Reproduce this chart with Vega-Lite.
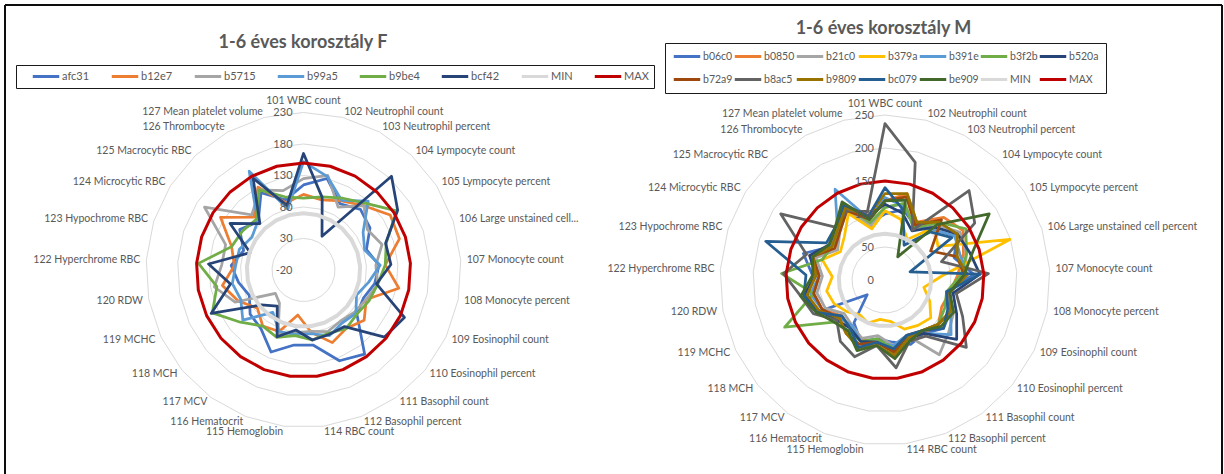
{
  "$schema": "https://vega.github.io/schema/vega-lite/v6.json",
  "padding": {"left": 4, "top": 4, "right": 1, "bottom": 0},
  "background": "white",
  "spacing": 0,
  "bounds": "flush",
  "config": {
    "view": {"stroke": null},
    "font": "Lato",
    "title": {"font": "Lato", "fontSize": 18, "fontWeight": "bold", "color": "#595959"},
    "legend": {
      "symbolType": "stroke",
      "symbolStrokeWidth": 3,
      "symbolSize": 700,
      "clipHeight": 13,
      "labelFont": "Lato",
      "labelFontSize": 11,
      "labelColor": "#595959",
      "labelOffset": 1,
      "strokeColor": "#1a1a1a",
      "fillColor": "white",
      "cornerRadius": 0
    }
  },
  "resolve": {
    "scale": {"x": "independent", "y": "independent", "color": "independent"},
    "legend": {"color": "independent"}
  },
  "datasets": {
    "catF": [
      {"k": 0, "cat": "101 WBC count"}, {"k": 1, "cat": "102 Neutrophil count"}, {"k": 2, "cat": "103 Neutrophil percent"},
      {"k": 3, "cat": "104 Lympocyte count"}, {"k": 4, "cat": "105 Lympocyte percent"}, {"k": 5, "cat": "106 Large unstained cell..."},
      {"k": 6, "cat": "107 Monocyte count"}, {"k": 7, "cat": "108 Monocyte percent"}, {"k": 8, "cat": "109 Eosinophil count"},
      {"k": 9, "cat": "110 Eosinophil percent"}, {"k": 10, "cat": "111 Basophil count"}, {"k": 11, "cat": "112 Basophil percent"},
      {"k": 12, "cat": "114 RBC count"}, {"k": 13, "cat": "115 Hemoglobin"}, {"k": 14, "cat": "116 Hematocrit"},
      {"k": 15, "cat": "117 MCV"}, {"k": 16, "cat": "118 MCH"}, {"k": 17, "cat": "119 MCHC"}, {"k": 18, "cat": "120 RDW"},
      {"k": 19, "cat": "122 Hyperchrome RBC"}, {"k": 20, "cat": "123 Hypochrome RBC"}, {"k": 21, "cat": "124 Microcytic RBC"},
      {"k": 22, "cat": "125 Macrocytic RBC"}, {"k": 23, "cat": "126 Thrombocyte"}, {"k": 24, "cat": "127 Mean platelet volume"}
    ],
    "catM": [
      {"k": 0, "cat": "101 WBC count"}, {"k": 1, "cat": "102 Neutrophil count"}, {"k": 2, "cat": "103 Neutrophil percent"},
      {"k": 3, "cat": "104 Lympocyte count"}, {"k": 4, "cat": "105 Lympocyte percent"}, {"k": 5, "cat": "106 Large unstained cell percent"},
      {"k": 6, "cat": "107 Monocyte count"}, {"k": 7, "cat": "108 Monocyte percent"}, {"k": 8, "cat": "109 Eosinophil count"},
      {"k": 9, "cat": "110 Eosinophil percent"}, {"k": 10, "cat": "111 Basophil count"}, {"k": 11, "cat": "112 Basophil percent"},
      {"k": 12, "cat": "114 RBC count"}, {"k": 13, "cat": "115 Hemoglobin"}, {"k": 14, "cat": "116 Hematocrit"},
      {"k": 15, "cat": "117 MCV"}, {"k": 16, "cat": "118 MCH"}, {"k": 17, "cat": "119 MCHC"}, {"k": 18, "cat": "120 RDW"},
      {"k": 19, "cat": "122 Hyperchrome RBC"}, {"k": 20, "cat": "123 Hypochrome RBC"}, {"k": 21, "cat": "124 Microcytic RBC"},
      {"k": 22, "cat": "125 Macrocytic RBC"}, {"k": 23, "cat": "126 Thrombocyte"}, {"k": 24, "cat": "127 Mean platelet volume"}
    ],
    "ringsF": [
      {"g": 30, "k": [0,1,2,3,4,5,6,7,8,9,10,11,12,13,14,15,16,17,18,19,20,21,22,23,24]},
      {"g": 80, "k": [0,1,2,3,4,5,6,7,8,9,10,11,12,13,14,15,16,17,18,19,20,21,22,23,24]},
      {"g": 130, "k": [0,1,2,3,4,5,6,7,8,9,10,11,12,13,14,15,16,17,18,19,20,21,22,23,24]},
      {"g": 180, "k": [0,1,2,3,4,5,6,7,8,9,10,11,12,13,14,15,16,17,18,19,20,21,22,23,24]},
      {"g": 230, "k": [0,1,2,3,4,5,6,7,8,9,10,11,12,13,14,15,16,17,18,19,20,21,22,23,24]}
    ],
    "ringsM": [
      {"g": 50, "k": [0,1,2,3,4,5,6,7,8,9,10,11,12,13,14,15,16,17,18,19,20,21,22,23,24]},
      {"g": 100, "k": [0,1,2,3,4,5,6,7,8,9,10,11,12,13,14,15,16,17,18,19,20,21,22,23,24]},
      {"g": 150, "k": [0,1,2,3,4,5,6,7,8,9,10,11,12,13,14,15,16,17,18,19,20,21,22,23,24]},
      {"g": 200, "k": [0,1,2,3,4,5,6,7,8,9,10,11,12,13,14,15,16,17,18,19,20,21,22,23,24]},
      {"g": 250, "k": [0,1,2,3,4,5,6,7,8,9,10,11,12,13,14,15,16,17,18,19,20,21,22,23,24]}
    ],
    "ticksF": [{"g": -20}, {"g": 30}, {"g": 80}, {"g": 130}, {"g": 180}, {"g": 230}],
    "ticksM": [{"g": 0}, {"g": 50}, {"g": 100}, {"g": 150}, {"g": 200}, {"g": 250}],
    "F": [
      {"s":"afc31","k":0,"v":115},{"s":"afc31","k":1,"v":130},{"s":"afc31","k":2,"v":100},{"s":"afc31","k":3,"v":112},{"s":"afc31","k":4,"v":105},
      {"s":"afc31","k":5,"v":85},{"s":"afc31","k":6,"v":100},{"s":"afc31","k":7,"v":95},{"s":"afc31","k":8,"v":85},{"s":"afc31","k":9,"v":90},
      {"s":"afc31","k":10,"v":145},{"s":"afc31","k":11,"v":135},{"s":"afc31","k":12,"v":100},{"s":"afc31","k":13,"v":100},{"s":"afc31","k":14,"v":120},
      {"s":"afc31","k":15,"v":95},{"s":"afc31","k":16,"v":90},{"s":"afc31","k":17,"v":75},{"s":"afc31","k":18,"v":85},{"s":"afc31","k":19,"v":95},
      {"s":"afc31","k":20,"v":80},{"s":"afc31","k":21,"v":100},{"s":"afc31","k":22,"v":85},{"s":"afc31","k":23,"v":120},{"s":"afc31","k":24,"v":95},
      {"s":"b12e7","k":0,"v":100},{"s":"b12e7","k":1,"v":95},{"s":"b12e7","k":2,"v":105},{"s":"b12e7","k":3,"v":120},{"s":"b12e7","k":4,"v":143},
      {"s":"b12e7","k":5,"v":140},{"s":"b12e7","k":6,"v":110},{"s":"b12e7","k":7,"v":134},{"s":"b12e7","k":8,"v":90},{"s":"b12e7","k":9,"v":105},
      {"s":"b12e7","k":10,"v":95},{"s":"b12e7","k":11,"v":104},{"s":"b12e7","k":12,"v":80},{"s":"b12e7","k":13,"v":52},{"s":"b12e7","k":14,"v":85},
      {"s":"b12e7","k":15,"v":90},{"s":"b12e7","k":16,"v":75},{"s":"b12e7","k":17,"v":95},{"s":"b12e7","k":18,"v":111},{"s":"b12e7","k":19,"v":90},
      {"s":"b12e7","k":20,"v":100},{"s":"b12e7","k":21,"v":136},{"s":"b12e7","k":22,"v":95},{"s":"b12e7","k":23,"v":130},{"s":"b12e7","k":24,"v":90},
      {"s":"b5715","k":0,"v":125},{"s":"b5715","k":1,"v":135},{"s":"b5715","k":2,"v":94},{"s":"b5715","k":3,"v":120},{"s":"b5715","k":4,"v":100},
      {"s":"b5715","k":5,"v":111},{"s":"b5715","k":6,"v":95},{"s":"b5715","k":7,"v":100},{"s":"b5715","k":8,"v":90},{"s":"b5715","k":9,"v":85},
      {"s":"b5715","k":10,"v":80},{"s":"b5715","k":11,"v":85},{"s":"b5715","k":12,"v":78},{"s":"b5715","k":13,"v":80},{"s":"b5715","k":14,"v":90},
      {"s":"b5715","k":15,"v":45},{"s":"b5715","k":16,"v":38},{"s":"b5715","k":17,"v":100},{"s":"b5715","k":18,"v":124},{"s":"b5715","k":19,"v":110},
      {"s":"b5715","k":20,"v":110},{"s":"b5715","k":21,"v":166},{"s":"b5715","k":22,"v":100},{"s":"b5715","k":23,"v":125},{"s":"b5715","k":24,"v":110},
      {"s":"b99a5","k":0,"v":152},{"s":"b99a5","k":1,"v":133},{"s":"b99a5","k":2,"v":106},{"s":"b99a5","k":3,"v":130},{"s":"b99a5","k":4,"v":92},
      {"s":"b99a5","k":5,"v":82},{"s":"b99a5","k":6,"v":102},{"s":"b99a5","k":7,"v":85},{"s":"b99a5","k":8,"v":73},{"s":"b99a5","k":9,"v":88},
      {"s":"b99a5","k":10,"v":84},{"s":"b99a5","k":11,"v":92},{"s":"b99a5","k":12,"v":82},{"s":"b99a5","k":13,"v":83},{"s":"b99a5","k":14,"v":85},
      {"s":"b99a5","k":15,"v":63},{"s":"b99a5","k":16,"v":105},{"s":"b99a5","k":17,"v":90},{"s":"b99a5","k":18,"v":95},{"s":"b99a5","k":19,"v":88},
      {"s":"b99a5","k":20,"v":87},{"s":"b99a5","k":21,"v":77},{"s":"b99a5","k":22,"v":86},{"s":"b99a5","k":23,"v":159},{"s":"b99a5","k":24,"v":80},
      {"s":"b9be4","k":0,"v":94},{"s":"b9be4","k":1,"v":100},{"s":"b9be4","k":2,"v":110},{"s":"b9be4","k":3,"v":125},{"s":"b9be4","k":4,"v":155},
      {"s":"b9be4","k":5,"v":118},{"s":"b9be4","k":6,"v":110},{"s":"b9be4","k":7,"v":100},{"s":"b9be4","k":8,"v":95},{"s":"b9be4","k":9,"v":90},
      {"s":"b9be4","k":10,"v":95},{"s":"b9be4","k":11,"v":88},{"s":"b9be4","k":12,"v":92},{"s":"b9be4","k":13,"v":85},{"s":"b9be4","k":14,"v":95},
      {"s":"b9be4","k":15,"v":90},{"s":"b9be4","k":16,"v":110},{"s":"b9be4","k":17,"v":140},{"s":"b9be4","k":18,"v":120},{"s":"b9be4","k":19,"v":147},
      {"s":"b9be4","k":20,"v":100},{"s":"b9be4","k":21,"v":95},{"s":"b9be4","k":22,"v":90},{"s":"b9be4","k":23,"v":125},{"s":"b9be4","k":24,"v":100},
      {"s":"bcf42","k":0,"v":165},{"s":"bcf42","k":1,"v":99},{"s":"bcf42","k":2,"v":41},{"s":"bcf42","k":3,"v":184},{"s":"bcf42","k":4,"v":157},
      {"s":"bcf42","k":5,"v":117},{"s":"bcf42","k":6,"v":119},{"s":"bcf42","k":7,"v":98},{"s":"bcf42","k":8,"v":157},{"s":"bcf42","k":9,"v":147},
      {"s":"bcf42","k":10,"v":91},{"s":"bcf42","k":11,"v":90},{"s":"bcf42","k":12,"v":92},{"s":"bcf42","k":13,"v":76},{"s":"bcf42","k":14,"v":94},
      {"s":"bcf42","k":15,"v":51},{"s":"bcf42","k":16,"v":67},{"s":"bcf42","k":17,"v":142},{"s":"bcf42","k":18,"v":98},{"s":"bcf42","k":19,"v":131},
      {"s":"bcf42","k":20,"v":69},{"s":"bcf42","k":21,"v":118},{"s":"bcf42","k":22,"v":81},{"s":"bcf42","k":23,"v":146},{"s":"bcf42","k":24,"v":86},
      {"s":"MIN","k":0,"v":70},{"s":"MIN","k":1,"v":70},{"s":"MIN","k":2,"v":70},{"s":"MIN","k":3,"v":70},{"s":"MIN","k":4,"v":70},
      {"s":"MIN","k":5,"v":70},{"s":"MIN","k":6,"v":70},{"s":"MIN","k":7,"v":70},{"s":"MIN","k":8,"v":70},{"s":"MIN","k":9,"v":70},
      {"s":"MIN","k":10,"v":70},{"s":"MIN","k":11,"v":70},{"s":"MIN","k":12,"v":70},{"s":"MIN","k":13,"v":70},{"s":"MIN","k":14,"v":70},
      {"s":"MIN","k":15,"v":70},{"s":"MIN","k":16,"v":70},{"s":"MIN","k":17,"v":70},{"s":"MIN","k":18,"v":70},{"s":"MIN","k":19,"v":70},
      {"s":"MIN","k":20,"v":70},{"s":"MIN","k":21,"v":70},{"s":"MIN","k":22,"v":70},{"s":"MIN","k":23,"v":70},{"s":"MIN","k":24,"v":70},
      {"s":"MAX","k":0,"v":150},{"s":"MAX","k":1,"v":150},{"s":"MAX","k":2,"v":150},{"s":"MAX","k":3,"v":150},{"s":"MAX","k":4,"v":150},
      {"s":"MAX","k":5,"v":150},{"s":"MAX","k":6,"v":150},{"s":"MAX","k":7,"v":150},{"s":"MAX","k":8,"v":150},{"s":"MAX","k":9,"v":150},
      {"s":"MAX","k":10,"v":150},{"s":"MAX","k":11,"v":150},{"s":"MAX","k":12,"v":150},{"s":"MAX","k":13,"v":150},{"s":"MAX","k":14,"v":150},
      {"s":"MAX","k":15,"v":150},{"s":"MAX","k":16,"v":150},{"s":"MAX","k":17,"v":150},{"s":"MAX","k":18,"v":150},{"s":"MAX","k":19,"v":150},
      {"s":"MAX","k":20,"v":150},{"s":"MAX","k":21,"v":150},{"s":"MAX","k":22,"v":150},{"s":"MAX","k":23,"v":150},{"s":"MAX","k":24,"v":150}
    ],
    "M": [
      {"s":"b06c0","k":0,"v":100},{"s":"b06c0","k":1,"v":110},{"s":"b06c0","k":2,"v":95},{"s":"b06c0","k":3,"v":120},{"s":"b06c0","k":4,"v":130},
      {"s":"b06c0","k":5,"v":110},{"s":"b06c0","k":6,"v":135},{"s":"b06c0","k":7,"v":95},{"s":"b06c0","k":8,"v":110},{"s":"b06c0","k":9,"v":115},
      {"s":"b06c0","k":10,"v":100},{"s":"b06c0","k":11,"v":105},{"s":"b06c0","k":12,"v":95},{"s":"b06c0","k":13,"v":90},{"s":"b06c0","k":14,"v":100},
      {"s":"b06c0","k":15,"v":80},{"s":"b06c0","k":16,"v":35},{"s":"b06c0","k":17,"v":115},{"s":"b06c0","k":18,"v":120},{"s":"b06c0","k":19,"v":110},
      {"s":"b06c0","k":20,"v":130},{"s":"b06c0","k":21,"v":95},{"s":"b06c0","k":22,"v":110},{"s":"b06c0","k":23,"v":125},{"s":"b06c0","k":24,"v":90},
      {"s":"b0850","k":0,"v":120},{"s":"b0850","k":1,"v":135},{"s":"b0850","k":2,"v":100},{"s":"b0850","k":3,"v":130},{"s":"b0850","k":4,"v":140},
      {"s":"b0850","k":5,"v":125},{"s":"b0850","k":6,"v":110},{"s":"b0850","k":7,"v":100},{"s":"b0850","k":8,"v":95},{"s":"b0850","k":9,"v":105},
      {"s":"b0850","k":10,"v":100},{"s":"b0850","k":11,"v":95},{"s":"b0850","k":12,"v":119},{"s":"b0850","k":13,"v":100},{"s":"b0850","k":14,"v":95},
      {"s":"b0850","k":15,"v":90},{"s":"b0850","k":16,"v":85},{"s":"b0850","k":17,"v":105},{"s":"b0850","k":18,"v":110},{"s":"b0850","k":19,"v":100},
      {"s":"b0850","k":20,"v":120},{"s":"b0850","k":21,"v":90},{"s":"b0850","k":22,"v":105},{"s":"b0850","k":23,"v":130},{"s":"b0850","k":24,"v":95},
      {"s":"b21c0","k":0,"v":110},{"s":"b21c0","k":1,"v":120},{"s":"b21c0","k":2,"v":90},{"s":"b21c0","k":3,"v":115},{"s":"b21c0","k":4,"v":135},
      {"s":"b21c0","k":5,"v":130},{"s":"b21c0","k":6,"v":120},{"s":"b21c0","k":7,"v":95},{"s":"b21c0","k":8,"v":115},{"s":"b21c0","k":9,"v":125},
      {"s":"b21c0","k":10,"v":140},{"s":"b21c0","k":11,"v":90},{"s":"b21c0","k":12,"v":100},{"s":"b21c0","k":13,"v":85},{"s":"b21c0","k":14,"v":95},
      {"s":"b21c0","k":15,"v":85},{"s":"b21c0","k":16,"v":80},{"s":"b21c0","k":17,"v":100},{"s":"b21c0","k":18,"v":105},{"s":"b21c0","k":19,"v":95},
      {"s":"b21c0","k":20,"v":110},{"s":"b21c0","k":21,"v":85},{"s":"b21c0","k":22,"v":100},{"s":"b21c0","k":23,"v":120},{"s":"b21c0","k":24,"v":85},
      {"s":"b379a","k":0,"v":105},{"s":"b379a","k":1,"v":95},{"s":"b379a","k":2,"v":70},{"s":"b379a","k":3,"v":110},{"s":"b379a","k":4,"v":95},
      {"s":"b379a","k":5,"v":199},{"s":"b379a","k":6,"v":85},{"s":"b379a","k":7,"v":60},{"s":"b379a","k":8,"v":75},{"s":"b379a","k":9,"v":90},
      {"s":"b379a","k":10,"v":85},{"s":"b379a","k":11,"v":80},{"s":"b379a","k":12,"v":63},{"s":"b379a","k":13,"v":60},{"s":"b379a","k":14,"v":70},
      {"s":"b379a","k":15,"v":65},{"s":"b379a","k":16,"v":75},{"s":"b379a","k":17,"v":85},{"s":"b379a","k":18,"v":90},{"s":"b379a","k":19,"v":80},
      {"s":"b379a","k":20,"v":100},{"s":"b379a","k":21,"v":80},{"s":"b379a","k":22,"v":90},{"s":"b379a","k":23,"v":115},{"s":"b379a","k":24,"v":80},
      {"s":"b391e","k":0,"v":125},{"s":"b391e","k":1,"v":115},{"s":"b391e","k":2,"v":95},{"s":"b391e","k":3,"v":105},{"s":"b391e","k":4,"v":125},
      {"s":"b391e","k":5,"v":120},{"s":"b391e","k":6,"v":125},{"s":"b391e","k":7,"v":100},{"s":"b391e","k":8,"v":110},{"s":"b391e","k":9,"v":130},
      {"s":"b391e","k":10,"v":100},{"s":"b391e","k":11,"v":90},{"s":"b391e","k":12,"v":100},{"s":"b391e","k":13,"v":95},{"s":"b391e","k":14,"v":100},
      {"s":"b391e","k":15,"v":85},{"s":"b391e","k":16,"v":90},{"s":"b391e","k":17,"v":105},{"s":"b391e","k":18,"v":115},{"s":"b391e","k":19,"v":100},
      {"s":"b391e","k":20,"v":115},{"s":"b391e","k":21,"v":95},{"s":"b391e","k":22,"v":105},{"s":"b391e","k":23,"v":157},{"s":"b391e","k":24,"v":95},
      {"s":"b3f2b","k":0,"v":110},{"s":"b3f2b","k":1,"v":120},{"s":"b3f2b","k":2,"v":90},{"s":"b3f2b","k":3,"v":120},{"s":"b3f2b","k":4,"v":145},
      {"s":"b3f2b","k":5,"v":130},{"s":"b3f2b","k":6,"v":115},{"s":"b3f2b","k":7,"v":95},{"s":"b3f2b","k":8,"v":100},{"s":"b3f2b","k":9,"v":105},
      {"s":"b3f2b","k":10,"v":95},{"s":"b3f2b","k":11,"v":95},{"s":"b3f2b","k":12,"v":105},{"s":"b3f2b","k":13,"v":90},{"s":"b3f2b","k":14,"v":100},
      {"s":"b3f2b","k":15,"v":95},{"s":"b3f2b","k":16,"v":100},{"s":"b3f2b","k":17,"v":168},{"s":"b3f2b","k":18,"v":110},{"s":"b3f2b","k":19,"v":157},
      {"s":"b3f2b","k":20,"v":100},{"s":"b3f2b","k":21,"v":95},{"s":"b3f2b","k":22,"v":100},{"s":"b3f2b","k":23,"v":130},{"s":"b3f2b","k":24,"v":90},
      {"s":"b520a","k":0,"v":115},{"s":"b520a","k":1,"v":105},{"s":"b520a","k":2,"v":85},{"s":"b520a","k":3,"v":110},{"s":"b520a","k":4,"v":130},
      {"s":"b520a","k":5,"v":135},{"s":"b520a","k":6,"v":144},{"s":"b520a","k":7,"v":105},{"s":"b520a","k":8,"v":120},{"s":"b520a","k":9,"v":141},
      {"s":"b520a","k":10,"v":100},{"s":"b520a","k":11,"v":95},{"s":"b520a","k":12,"v":110},{"s":"b520a","k":13,"v":95},{"s":"b520a","k":14,"v":100},
      {"s":"b520a","k":15,"v":90},{"s":"b520a","k":16,"v":95},{"s":"b520a","k":17,"v":110},{"s":"b520a","k":18,"v":125},{"s":"b520a","k":19,"v":105},
      {"s":"b520a","k":20,"v":120},{"s":"b520a","k":21,"v":100},{"s":"b520a","k":22,"v":110},{"s":"b520a","k":23,"v":125},{"s":"b520a","k":24,"v":100},
      {"s":"b72a9","k":0,"v":120},{"s":"b72a9","k":1,"v":130},{"s":"b72a9","k":2,"v":95},{"s":"b72a9","k":3,"v":125},{"s":"b72a9","k":4,"v":82},
      {"s":"b72a9","k":5,"v":115},{"s":"b72a9","k":6,"v":120},{"s":"b72a9","k":7,"v":100},{"s":"b72a9","k":8,"v":110},{"s":"b72a9","k":9,"v":105},
      {"s":"b72a9","k":10,"v":95},{"s":"b72a9","k":11,"v":90},{"s":"b72a9","k":12,"v":110},{"s":"b72a9","k":13,"v":95},{"s":"b72a9","k":14,"v":105},
      {"s":"b72a9","k":15,"v":100},{"s":"b72a9","k":16,"v":90},{"s":"b72a9","k":17,"v":105},{"s":"b72a9","k":18,"v":110},{"s":"b72a9","k":19,"v":100},
      {"s":"b72a9","k":20,"v":115},{"s":"b72a9","k":21,"v":90},{"s":"b72a9","k":22,"v":100},{"s":"b72a9","k":23,"v":120},{"s":"b72a9","k":24,"v":95},
      {"s":"b8ac5","k":0,"v":237},{"s":"b8ac5","k":1,"v":184},{"s":"b8ac5","k":2,"v":86},{"s":"b8ac5","k":3,"v":186},{"s":"b8ac5","k":4,"v":161},
      {"s":"b8ac5","k":5,"v":90},{"s":"b8ac5","k":6,"v":157},{"s":"b8ac5","k":7,"v":110},{"s":"b8ac5","k":8,"v":130},{"s":"b8ac5","k":9,"v":160},
      {"s":"b8ac5","k":10,"v":105},{"s":"b8ac5","k":11,"v":100},{"s":"b8ac5","k":12,"v":134},{"s":"b8ac5","k":13,"v":100},{"s":"b8ac5","k":14,"v":125},
      {"s":"b8ac5","k":15,"v":115},{"s":"b8ac5","k":16,"v":95},{"s":"b8ac5","k":17,"v":120},{"s":"b8ac5","k":18,"v":130},{"s":"b8ac5","k":19,"v":154},
      {"s":"b8ac5","k":20,"v":125},{"s":"b8ac5","k":21,"v":187},{"s":"b8ac5","k":22,"v":110},{"s":"b8ac5","k":23,"v":120},{"s":"b8ac5","k":24,"v":107},
      {"s":"b9809","k":0,"v":131},{"s":"b9809","k":1,"v":135},{"s":"b9809","k":2,"v":100},{"s":"b9809","k":3,"v":120},{"s":"b9809","k":4,"v":130},
      {"s":"b9809","k":5,"v":115},{"s":"b9809","k":6,"v":125},{"s":"b9809","k":7,"v":100},{"s":"b9809","k":8,"v":110},{"s":"b9809","k":9,"v":105},
      {"s":"b9809","k":10,"v":95},{"s":"b9809","k":11,"v":95},{"s":"b9809","k":12,"v":115},{"s":"b9809","k":13,"v":100},{"s":"b9809","k":14,"v":110},
      {"s":"b9809","k":15,"v":100},{"s":"b9809","k":16,"v":90},{"s":"b9809","k":17,"v":110},{"s":"b9809","k":18,"v":120},{"s":"b9809","k":19,"v":105},
      {"s":"b9809","k":20,"v":115},{"s":"b9809","k":21,"v":95},{"s":"b9809","k":22,"v":105},{"s":"b9809","k":23,"v":125},{"s":"b9809","k":24,"v":100},
      {"s":"bc079","k":0,"v":140},{"s":"bc079","k":1,"v":110},{"s":"bc079","k":2,"v":60},{"s":"bc079","k":3,"v":100},{"s":"bc079","k":4,"v":120},
      {"s":"bc079","k":5,"v":40},{"s":"bc079","k":6,"v":145},{"s":"bc079","k":7,"v":95},{"s":"bc079","k":8,"v":105},{"s":"bc079","k":9,"v":115},
      {"s":"bc079","k":10,"v":95},{"s":"bc079","k":11,"v":90},{"s":"bc079","k":12,"v":105},{"s":"bc079","k":13,"v":95},{"s":"bc079","k":14,"v":110},
      {"s":"bc079","k":15,"v":90},{"s":"bc079","k":16,"v":85},{"s":"bc079","k":17,"v":115},{"s":"bc079","k":18,"v":125},{"s":"bc079","k":19,"v":120},
      {"s":"bc079","k":20,"v":190},{"s":"bc079","k":21,"v":105},{"s":"bc079","k":22,"v":110},{"s":"bc079","k":23,"v":130},{"s":"bc079","k":24,"v":100},
      {"s":"be909","k":0,"v":120},{"s":"be909","k":1,"v":125},{"s":"be909","k":2,"v":40},{"s":"be909","k":3,"v":115},{"s":"be909","k":4,"v":187},
      {"s":"be909","k":5,"v":140},{"s":"be909","k":6,"v":120},{"s":"be909","k":7,"v":100},{"s":"be909","k":8,"v":115},{"s":"be909","k":9,"v":110},
      {"s":"be909","k":10,"v":95},{"s":"be909","k":11,"v":100},{"s":"be909","k":12,"v":120},{"s":"be909","k":13,"v":100},{"s":"be909","k":14,"v":115},
      {"s":"be909","k":15,"v":95},{"s":"be909","k":16,"v":100},{"s":"be909","k":17,"v":115},{"s":"be909","k":18,"v":130},{"s":"be909","k":19,"v":110},
      {"s":"be909","k":20,"v":115},{"s":"be909","k":21,"v":100},{"s":"be909","k":22,"v":110},{"s":"be909","k":23,"v":135},{"s":"be909","k":24,"v":95},
      {"s":"MIN","k":0,"v":70},{"s":"MIN","k":1,"v":70},{"s":"MIN","k":2,"v":70},{"s":"MIN","k":3,"v":70},{"s":"MIN","k":4,"v":70},
      {"s":"MIN","k":5,"v":70},{"s":"MIN","k":6,"v":70},{"s":"MIN","k":7,"v":70},{"s":"MIN","k":8,"v":70},{"s":"MIN","k":9,"v":70},
      {"s":"MIN","k":10,"v":70},{"s":"MIN","k":11,"v":70},{"s":"MIN","k":12,"v":70},{"s":"MIN","k":13,"v":70},{"s":"MIN","k":14,"v":70},
      {"s":"MIN","k":15,"v":70},{"s":"MIN","k":16,"v":70},{"s":"MIN","k":17,"v":70},{"s":"MIN","k":18,"v":70},{"s":"MIN","k":19,"v":70},
      {"s":"MIN","k":20,"v":70},{"s":"MIN","k":21,"v":70},{"s":"MIN","k":22,"v":70},{"s":"MIN","k":23,"v":70},{"s":"MIN","k":24,"v":70},
      {"s":"MAX","k":0,"v":150},{"s":"MAX","k":1,"v":150},{"s":"MAX","k":2,"v":150},{"s":"MAX","k":3,"v":150},{"s":"MAX","k":4,"v":150},
      {"s":"MAX","k":5,"v":150},{"s":"MAX","k":6,"v":150},{"s":"MAX","k":7,"v":150},{"s":"MAX","k":8,"v":150},{"s":"MAX","k":9,"v":150},
      {"s":"MAX","k":10,"v":150},{"s":"MAX","k":11,"v":150},{"s":"MAX","k":12,"v":150},{"s":"MAX","k":13,"v":150},{"s":"MAX","k":14,"v":150},
      {"s":"MAX","k":15,"v":150},{"s":"MAX","k":16,"v":150},{"s":"MAX","k":17,"v":150},{"s":"MAX","k":18,"v":150},{"s":"MAX","k":19,"v":150},
      {"s":"MAX","k":20,"v":150},{"s":"MAX","k":21,"v":150},{"s":"MAX","k":22,"v":150},{"s":"MAX","k":23,"v":150},{"s":"MAX","k":24,"v":150}
    ]
  },
  "hconcat": [
    {
      "width": 602,
      "height": 469,
      "title": {"text": "1-6 éves korosztály F", "anchor": "middle", "frame": "group", "baseline": "middle", "offset": -57, "dx": -3},
      "layer": [
        {
          "data": {"values": [{}]},
          "mark": {"type": "rule", "stroke": "#0d0d0d", "strokeWidth": 2},
          "encoding": {"y": {"datum": 420.6, "type": "quantitative", "scale": {"domain": [-323.8, 420.6], "nice": false, "zero": false}, "axis": null}}
        },
        {
          "data": {"values": [{}]},
          "mark": {"type": "rule", "stroke": "#0d0d0d", "strokeWidth": 2},
          "encoding": {"x": {"datum": -473.8, "type": "quantitative", "scale": {"domain": [-473.8, 481.7], "nice": false, "zero": false}, "axis": null}}
        },
        {
          "data": {"name": "ringsF"},
          "transform": [
            {"flatten": ["k"]},
            {"calculate": "datum.k * PI / 12.5", "as": "a"},
            {"calculate": "(datum.g + 20) * sin(datum.a)", "as": "px"},
            {"calculate": "(datum.g + 20) * cos(datum.a)", "as": "py"}
          ],
          "mark": {"type": "line", "interpolate": "linear-closed", "stroke": "#d9d9d9", "strokeWidth": 1},
          "encoding": {
            "x": {"field": "px", "type": "quantitative", "scale": {"domain": [-473.8, 481.7], "nice": false, "zero": false}, "axis": null},
            "y": {"field": "py", "type": "quantitative", "scale": {"domain": [-323.8, 420.6], "nice": false, "zero": false}, "axis": null},
            "detail": {"field": "g", "type": "nominal"},
            "order": {"field": "k", "type": "quantitative"}
          }
        },
        {
          "data": {"name": "catF"},
          "transform": [
            {"calculate": "datum.k * PI / 12.5", "as": "a"},
            {"calculate": "259.5 * sin(datum.a)", "as": "px"},
            {"calculate": "259.5 * cos(datum.a)", "as": "py"}
          ],
          "encoding": {
            "x": {"field": "px", "type": "quantitative", "scale": {"domain": [-473.8, 481.7], "nice": false, "zero": false}, "axis": null},
            "y": {"field": "py", "type": "quantitative", "scale": {"domain": [-323.8, 420.6], "nice": false, "zero": false}, "axis": null},
            "text": {"field": "cat", "type": "nominal"}
          },
          "layer": [
            {"transform": [{"filter": "datum.k == 0"}], "mark": {"type": "text", "font": "Lato", "fontSize": 10.5, "fill": "#595959", "align": "center", "baseline": "bottom"}},
            {"transform": [{"filter": "datum.k >= 1 && datum.k <= 12"}], "mark": {"type": "text", "font": "Lato", "fontSize": 10.5, "fill": "#595959", "align": "left", "baseline": "middle"}},
            {"transform": [{"filter": "datum.k >= 13"}], "mark": {"type": "text", "font": "Lato", "fontSize": 10.5, "fill": "#595959", "align": "right", "baseline": "middle"}}
          ]
        },
        {
          "data": {"name": "F"},
          "transform": [
            {"calculate": "datum.k * PI / 12.5", "as": "a"},
            {"calculate": "(datum.v + 20) * sin(datum.a)", "as": "px"},
            {"calculate": "(datum.v + 20) * cos(datum.a)", "as": "py"}
          ],
          "encoding": {
            "x": {"field": "px", "type": "quantitative", "scale": {"domain": [-473.8, 481.7], "nice": false, "zero": false}, "axis": null},
            "y": {"field": "py", "type": "quantitative", "scale": {"domain": [-323.8, 420.6], "nice": false, "zero": false}, "axis": null},
            "color": {
              "field": "s",
              "type": "nominal",
              "scale": {
                "domain": ["afc31", "b12e7", "b5715", "b99a5", "b9be4", "bcf42", "MIN", "MAX"],
                "range": ["#4472C4", "#ED7D31", "#A5A5A5", "#5B9BD5", "#70AD47", "#264478", "#D9D9D9", "#C00000"]
              },
              "legend": {"title": null, "orient": "none", "direction": "horizontal", "legendX": 11, "legendY": 60, "columns": 8, "padding": 5, "symbolOffset": 10, "columnPadding": 10}
            },
            "order": {"field": "k", "type": "quantitative"}
          },
          "layer": [
            {"transform": [{"filter": "datum.s != 'MIN' && datum.s != 'MAX'"}], "mark": {"type": "line", "interpolate": "linear-closed", "strokeWidth": 2.75, "strokeJoin": "round"}},
            {"transform": [{"filter": "datum.s == 'MIN'"}], "mark": {"type": "line", "interpolate": "linear-closed", "strokeWidth": 4, "strokeJoin": "round"}},
            {"transform": [{"filter": "datum.s == 'MAX'"}], "mark": {"type": "line", "interpolate": "linear-closed", "strokeWidth": 3, "strokeJoin": "round"}}
          ]
        },
        {
          "data": {"name": "ticksF"},
          "transform": [{"calculate": "datum.g + 20", "as": "py"}],
          "mark": {"type": "text", "font": "Lato", "fontSize": 11, "fill": "#595959", "align": "right", "baseline": "middle", "dx": -11, "dy": 1},
          "encoding": {
            "x": {"datum": 0, "type": "quantitative", "scale": {"domain": [-473.8, 481.7], "nice": false, "zero": false}, "axis": null},
            "y": {"field": "py", "type": "quantitative", "scale": {"domain": [-323.8, 420.6], "nice": false, "zero": false}, "axis": null},
            "text": {"field": "g", "type": "nominal"}
          }
        }
      ]
    },
    {
      "width": 615,
      "height": 469,
      "title": {"text": "1-6 éves korosztály M", "anchor": "middle", "frame": "group", "baseline": "middle", "offset": -43, "dx": -31},
      "layer": [
        {
          "data": {"values": [{}]},
          "mark": {"type": "rule", "stroke": "#0d0d0d", "strokeWidth": 2},
          "encoding": {"y": {"datum": 416.7, "type": "quantitative", "scale": {"domain": [-293.9, 416.7], "nice": false, "zero": false}, "axis": null}}
        },
        {
          "data": {"values": [{}]},
          "mark": {"type": "rule", "stroke": "#0d0d0d", "strokeWidth": 2},
          "encoding": {"x": {"datum": 510.6, "type": "quantitative", "scale": {"domain": [-421.2, 510.6], "nice": false, "zero": false}, "axis": null}}
        },
        {
          "data": {"name": "ringsM"},
          "transform": [
            {"flatten": ["k"]},
            {"calculate": "datum.k * PI / 12.5", "as": "a"},
            {"calculate": "datum.g * sin(datum.a)", "as": "px"},
            {"calculate": "datum.g * cos(datum.a)", "as": "py"}
          ],
          "mark": {"type": "line", "interpolate": "linear-closed", "stroke": "#d9d9d9", "strokeWidth": 1},
          "encoding": {
            "x": {"field": "px", "type": "quantitative", "scale": {"domain": [-421.2, 510.6], "nice": false, "zero": false}, "axis": null},
            "y": {"field": "py", "type": "quantitative", "scale": {"domain": [-293.9, 416.7], "nice": false, "zero": false}, "axis": null},
            "detail": {"field": "g", "type": "nominal"},
            "order": {"field": "k", "type": "quantitative"}
          }
        },
        {
          "data": {"name": "catM"},
          "transform": [
            {"calculate": "datum.k * PI / 12.5", "as": "a"},
            {"calculate": "259 * sin(datum.a)", "as": "px"},
            {"calculate": "259 * cos(datum.a)", "as": "py"}
          ],
          "encoding": {
            "x": {"field": "px", "type": "quantitative", "scale": {"domain": [-421.2, 510.6], "nice": false, "zero": false}, "axis": null},
            "y": {"field": "py", "type": "quantitative", "scale": {"domain": [-293.9, 416.7], "nice": false, "zero": false}, "axis": null},
            "text": {"field": "cat", "type": "nominal"}
          },
          "layer": [
            {"transform": [{"filter": "datum.k == 0"}], "mark": {"type": "text", "font": "Lato", "fontSize": 10.5, "fill": "#595959", "align": "center", "baseline": "bottom"}},
            {"transform": [{"filter": "datum.k >= 1 && datum.k <= 12"}], "mark": {"type": "text", "font": "Lato", "fontSize": 10.5, "fill": "#595959", "align": "left", "baseline": "middle"}},
            {"transform": [{"filter": "datum.k >= 13"}], "mark": {"type": "text", "font": "Lato", "fontSize": 10.5, "fill": "#595959", "align": "right", "baseline": "middle"}}
          ]
        },
        {
          "data": {"name": "M"},
          "transform": [
            {"calculate": "datum.k * PI / 12.5", "as": "a"},
            {"calculate": "datum.v * sin(datum.a)", "as": "px"},
            {"calculate": "datum.v * cos(datum.a)", "as": "py"}
          ],
          "encoding": {
            "x": {"field": "px", "type": "quantitative", "scale": {"domain": [-421.2, 510.6], "nice": false, "zero": false}, "axis": null},
            "y": {"field": "py", "type": "quantitative", "scale": {"domain": [-293.9, 416.7], "nice": false, "zero": false}, "axis": null},
            "color": {
              "field": "s",
              "type": "nominal",
              "scale": {
                "domain": ["b06c0", "b0850", "b21c0", "b379a", "b391e", "b3f2b", "b520a", "b72a9", "b8ac5", "b9809", "bc079", "be909", "MIN", "MAX"],
                "range": ["#4472C4", "#ED7D31", "#A5A5A5", "#FFC000", "#5B9BD5", "#70AD47", "#264478", "#9E480E", "#636363", "#997300", "#255E91", "#43682B", "#D9D9D9", "#C00000"]
              },
              "legend": {"title": null, "orient": "none", "direction": "horizontal", "legendX": 58, "legendY": 38, "columns": 7, "padding": 7, "rowPadding": 10, "symbolOffset": 0, "columnPadding": 0, "labelFontSize": 10.5}
            },
            "order": {"field": "k", "type": "quantitative"}
          },
          "layer": [
            {"transform": [{"filter": "datum.s != 'MIN' && datum.s != 'MAX'"}], "mark": {"type": "line", "interpolate": "linear-closed", "strokeWidth": 2.75, "strokeJoin": "round"}},
            {"transform": [{"filter": "datum.s == 'MIN'"}], "mark": {"type": "line", "interpolate": "linear-closed", "strokeWidth": 4, "strokeJoin": "round"}},
            {"transform": [{"filter": "datum.s == 'MAX'"}], "mark": {"type": "line", "interpolate": "linear-closed", "strokeWidth": 3, "strokeJoin": "round"}}
          ]
        },
        {
          "data": {"name": "ticksM"},
          "transform": [{"calculate": "datum.g", "as": "py"}],
          "mark": {"type": "text", "font": "Lato", "fontSize": 11, "fill": "#595959", "align": "right", "baseline": "middle", "dx": -11, "dy": 1},
          "encoding": {
            "x": {"datum": 0, "type": "quantitative", "scale": {"domain": [-421.2, 510.6], "nice": false, "zero": false}, "axis": null},
            "y": {"field": "py", "type": "quantitative", "scale": {"domain": [-293.9, 416.7], "nice": false, "zero": false}, "axis": null},
            "text": {"field": "g", "type": "nominal"}
          }
        }
      ]
    }
  ]
}
